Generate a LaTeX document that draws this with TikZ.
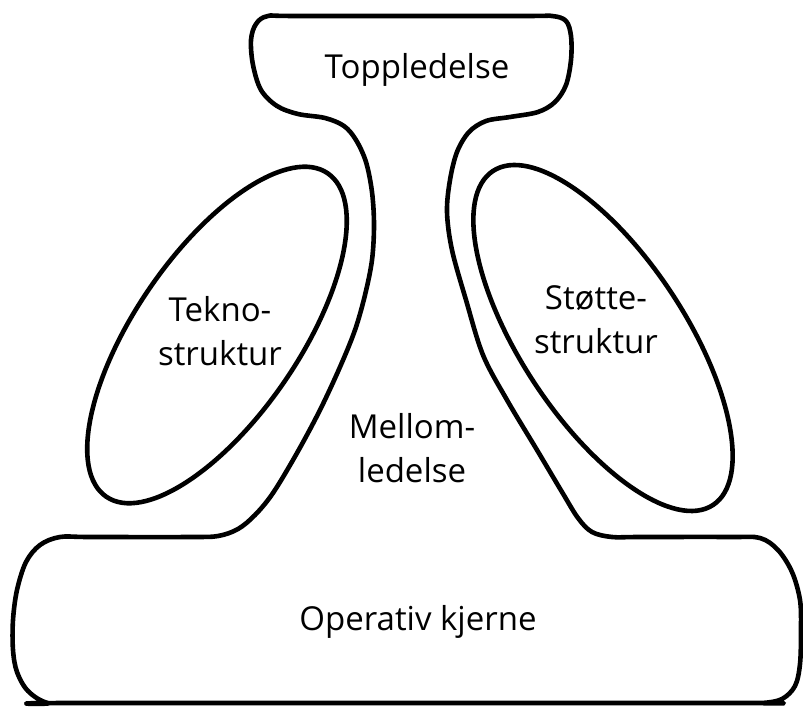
\documentclass[tikz,border=0pt]{standalone}
\usepackage{fontspec}
\setmainfont{Open Sans}
\begin{document}
\begin{tikzpicture}[x=1pt,y=-1pt,
  outline/.style={line width=4.6pt, line join=round, black},
  lbl/.style={font=\fontsize{33}{44}\selectfont, align=center, anchor=base, inner sep=0pt}]
\useasboundingbox (0,0) rectangle (803,709);
% outer body
\draw[outline] plot[smooth cycle, tension=0.55] coordinates {
 (268,16) (300,16) (520,16) (552,16)
 (566,21) (571,36) (571,60) (566,85) (555,102) (538,112) (510,117) (486,121)
 (469,132) (457,152) (450,180) (447,212) (452,250) (466,300) (483,355)
 (507,400) (537,450) (562,492) (578,518) (592,532) (612,537)
 (640,537) (730,537) (760,538) (778,550) (792,572) (800,600) (801,630)
 (800,664) (795,686) (782,699) (762,703) (730,703)
 (80,703) (48,703) (28,691) (17,672) (13,650) (13,620) (17,590) (26,562)
 (40,545) (60,537) (90,537) (190,537) (218,536) (238,529) (255,515)
 (273,493) (297,453) (320,410) (340,367) (355,330) (365,295) (372,260)
 (374,225) (372,192) (366,162) (356,140) (344,126) (325,118) (298,114)
 (277,106) (261,90) (253,65) (251,40) (256,24)};
% inner ellipses
\coordinate (tc) at (217,335);
\coordinate (sc) at (603,338);
\draw[outline, rotate around={55.6:(tc)}] (tc) ellipse [x radius=196, y radius=82];
\draw[outline, rotate around={-56.6:(sc)}] (sc) ellipse [x radius=200, y radius=82];
% labels (anchor base = baseline of last line)
\node[lbl] (top) at (417,78) {Toppledelse};
\node[lbl] (tekno) at (220,365) {Tekno-\\struktur};
\node[lbl] (stotte) at (596,353) {Støtte-\\struktur};
\node[lbl] (mellom) at (412,482) {Mellom-\\ledelse};
\node[lbl] (kjerne) at (418,630) {Operativ kjerne};
\end{tikzpicture}
\end{document}
